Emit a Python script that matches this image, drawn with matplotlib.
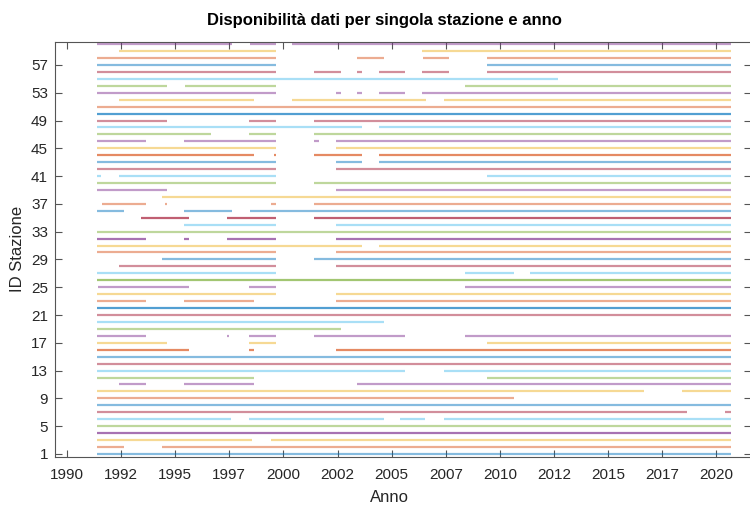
import matplotlib
matplotlib.use('Agg')
import matplotlib.pyplot as plt

plt.rcParams['font.family'] = ['Liberation Sans', 'DejaVu Sans']

# Periodi di disponibilita' (anno decimale inizio, fine) per stazione 1..60
periods = [
    [(1991.4, 2020.68)],                                                    # 1
    [(1991.4, 1992.64), (1994.41, 2020.68)],                                # 2
    [(1991.4, 1998.56), (1999.41, 2020.68)],                                # 3
    [(1991.4, 2020.68)],                                                    # 4
    [(1991.4, 2020.68)],                                                    # 5
    [(1991.4, 1997.56), (1998.41, 2004.64), (2005.4, 2006.53), (2007.4, 2020.68)],
    [(1991.4, 2018.65), (2020.42, 2020.68)],                                # 7
    [(1991.4, 2020.68)],                                                    # 8
    [(1991.4, 2010.64)],                                                    # 9
    [(1991.4, 2016.66), (2018.42, 2020.68)],                                # 10
    [(1992.41, 1993.64), (1995.41, 1998.64), (2003.39, 2020.68)],           # 11
    [(1991.4, 1998.64), (2009.41, 2020.68)],                                # 12
    [(1991.4, 2005.63), (2007.4, 2020.68)],                                 # 13
    [(1991.4, 2020.68)],                                                    # 14
    [(1991.4, 2020.68)],                                                    # 15
    [(1991.4, 1995.64), (1998.41, 1998.64), (2002.41, 2020.68)],            # 16
    [(1991.4, 1994.64), (1998.41, 1999.64), (2009.41, 2020.68)],            # 17
    [(1991.4, 1993.64), (1997.41, 1997.47), (1998.41, 1999.64),
     (2001.41, 2005.63), (2008.41, 2020.68)],                               # 18
    [(1991.4, 2002.64)],                                                    # 19
    [(1991.4, 2004.64)],                                                    # 20
    [(1991.4, 2020.68)],                                                    # 21
    [(1991.4, 2020.68)],                                                    # 22
    [(1991.4, 1993.64), (1995.41, 1998.64), (2002.41, 2020.68)],            # 23
    [(1991.4, 1999.64), (2002.41, 2020.68)],                                # 24
    [(1991.45, 1995.64), (1998.41, 1999.64), (2008.41, 2020.68)],           # 25
    [(1991.4, 2020.68)],                                                    # 26
    [(1991.4, 1999.64), (2008.41, 2010.64), (2011.41, 2020.68)],            # 27
    [(1992.41, 1999.64), (2002.41, 2020.68)],                               # 28
    [(1994.41, 1999.64), (2001.41, 2020.68)],                               # 29
    [(1991.4, 1999.64), (2002.41, 2020.68)],                                # 30
    [(1991.4, 2003.64), (2004.4, 2020.68)],                                 # 31
    [(1991.4, 1993.64), (1995.41, 1995.64), (1997.41, 1999.64), (2002.41, 2020.68)],
    [(1991.4, 2020.68)],                                                    # 33
    [(1995.41, 1999.64), (2002.41, 2020.68)],                               # 34
    [(1993.41, 1995.64), (1997.41, 1999.64), (2001.41, 2020.68)],           # 35
    [(1991.4, 1992.64), (1995.41, 1997.64), (1998.44, 2020.68)],            # 36
    [(1991.6, 1993.64), (1994.55, 1994.64), (1999.41, 1999.64), (2001.41, 2020.68)],
    [(1994.41, 2020.68)],                                                   # 38
    [(1991.4, 1994.64), (2002.41, 2020.68)],                                # 39
    [(1991.4, 1999.64), (2001.41, 2020.68)],                                # 40
    [(1991.4, 1991.57), (1992.41, 1999.64), (2009.41, 2020.68)],            # 41
    [(1991.4, 1999.64), (2002.41, 2020.68)],                                # 42
    [(1991.4, 1999.64), (2002.41, 2003.64), (2004.4, 2020.68)],             # 43
    [(1991.4, 1998.64), (1999.55, 1999.64), (2001.41, 2003.64), (2004.4, 2020.68)],
    [(1991.4, 1999.64), (2002.41, 2020.68)],                                # 45
    [(1991.4, 1993.64), (1995.41, 1999.64), (2001.41, 2001.64), (2002.41, 2020.68)],
    [(1991.4, 1996.64), (1998.41, 1999.64), (2001.41, 2020.68)],            # 47
    [(1991.4, 2003.64), (2004.4, 2020.68)],                                 # 48
    [(1991.4, 1994.64), (1998.41, 1999.64), (2001.41, 2020.68)],            # 49
    [(1991.4, 2020.68)],                                                    # 50
    [(1991.4, 2020.68)],                                                    # 51
    [(1992.41, 1998.64), (2000.39, 2006.59), (2007.4, 2020.68)],            # 52
    [(1991.4, 1999.64), (2002.41, 2002.64), (2003.39, 2003.64),
     (2004.4, 2005.63), (2006.4, 2020.68)],                                 # 53
    [(1991.4, 1994.64), (1995.47, 1999.64), (2008.4, 2020.68)],             # 54
    [(1991.4, 2012.67)],                                                    # 55
    [(1991.4, 1999.64), (2001.41, 2002.64), (2003.39, 2003.64),
     (2004.4, 2005.63), (2006.4, 2007.65), (2009.4, 2020.68)],              # 56
    [(1991.4, 1999.64), (2009.4, 2020.68)],                                 # 57
    [(1991.4, 1999.64), (2003.4, 2004.64), (2006.43, 2007.65), (2009.4, 2020.68)],
    [(1992.41, 1999.64), (2006.4, 2020.68)],                                # 59
    [(1991.4, 1997.64), (1998.47, 1999.64), (2000.39, 2020.68)],            # 60
]
station_ids = list(range(1, len(periods) + 1))

x_ticks = [1990, 1992.5, 1995, 1997.5, 2000, 2002.5, 2005, 2007.5,
           2010, 2012.5, 2015, 2017.5, 2020]
x_labels = ['1990', '1992', '1995', '1997', '2000', '2002', '2005', '2007',
            '2010', '2012', '2015', '2017', '2020']
y_ticks = list(range(1, 58, 4))

# ordine colori MATLAB
matlab_colors = ['#0072BD', '#D95319', '#EDB120', '#7E2F8E',
                 '#77AC30', '#4DBEEE', '#A2142F']
strong = [4, 16, 22, 26, 32, 35, 44, 50]

fig = plt.figure(figsize=(7.5, 5.05), dpi=100)
ax = fig.add_axes([55 / 750, 1 - 456.7 / 505, 696 / 750, 415 / 505])

for sid, segs in zip(station_ids, periods):
    col = matlab_colors[(sid - 1) % 7]
    alpha = 0.68 if sid in strong else 0.48
    for start, end in segs:
        ax.plot([start, end], [sid, sid], color=col, lw=1.6, alpha=alpha,
                solid_capstyle='butt')

ax.set_xlim(1989.45, 2021.6)
ax.set_ylim(0.6, 60.35)
ax.set_xticks(x_ticks)
ax.set_xticklabels(x_labels)
ax.set_yticks(y_ticks)

dark = '#262626'
ax.tick_params(direction='in', length=5, width=0.8, color='#555555',
               labelcolor=dark, labelsize=11, top=True, right=True)
ax.tick_params(axis='x', pad=8)
ax.tick_params(axis='y', pad=5)
for sp in ax.spines.values():
    sp.set_color('#555555')
    sp.set_linewidth(0.8)

fig.text(384 / 750, 1 - 20 / 505, 'Disponibilità dati per singola stazione e anno',
         ha='center', va='center', fontsize=12, fontweight='bold', color='black')
fig.text(389 / 750, 1 - 497 / 505, 'Anno', ha='center', va='center',
         fontsize=12, color=dark)
fig.text(17.5 / 750, 1 - 249 / 505, 'ID Stazione', ha='center', va='center',
         rotation=90, fontsize=12, color=dark)

fig.savefig('out.png', dpi=100)
